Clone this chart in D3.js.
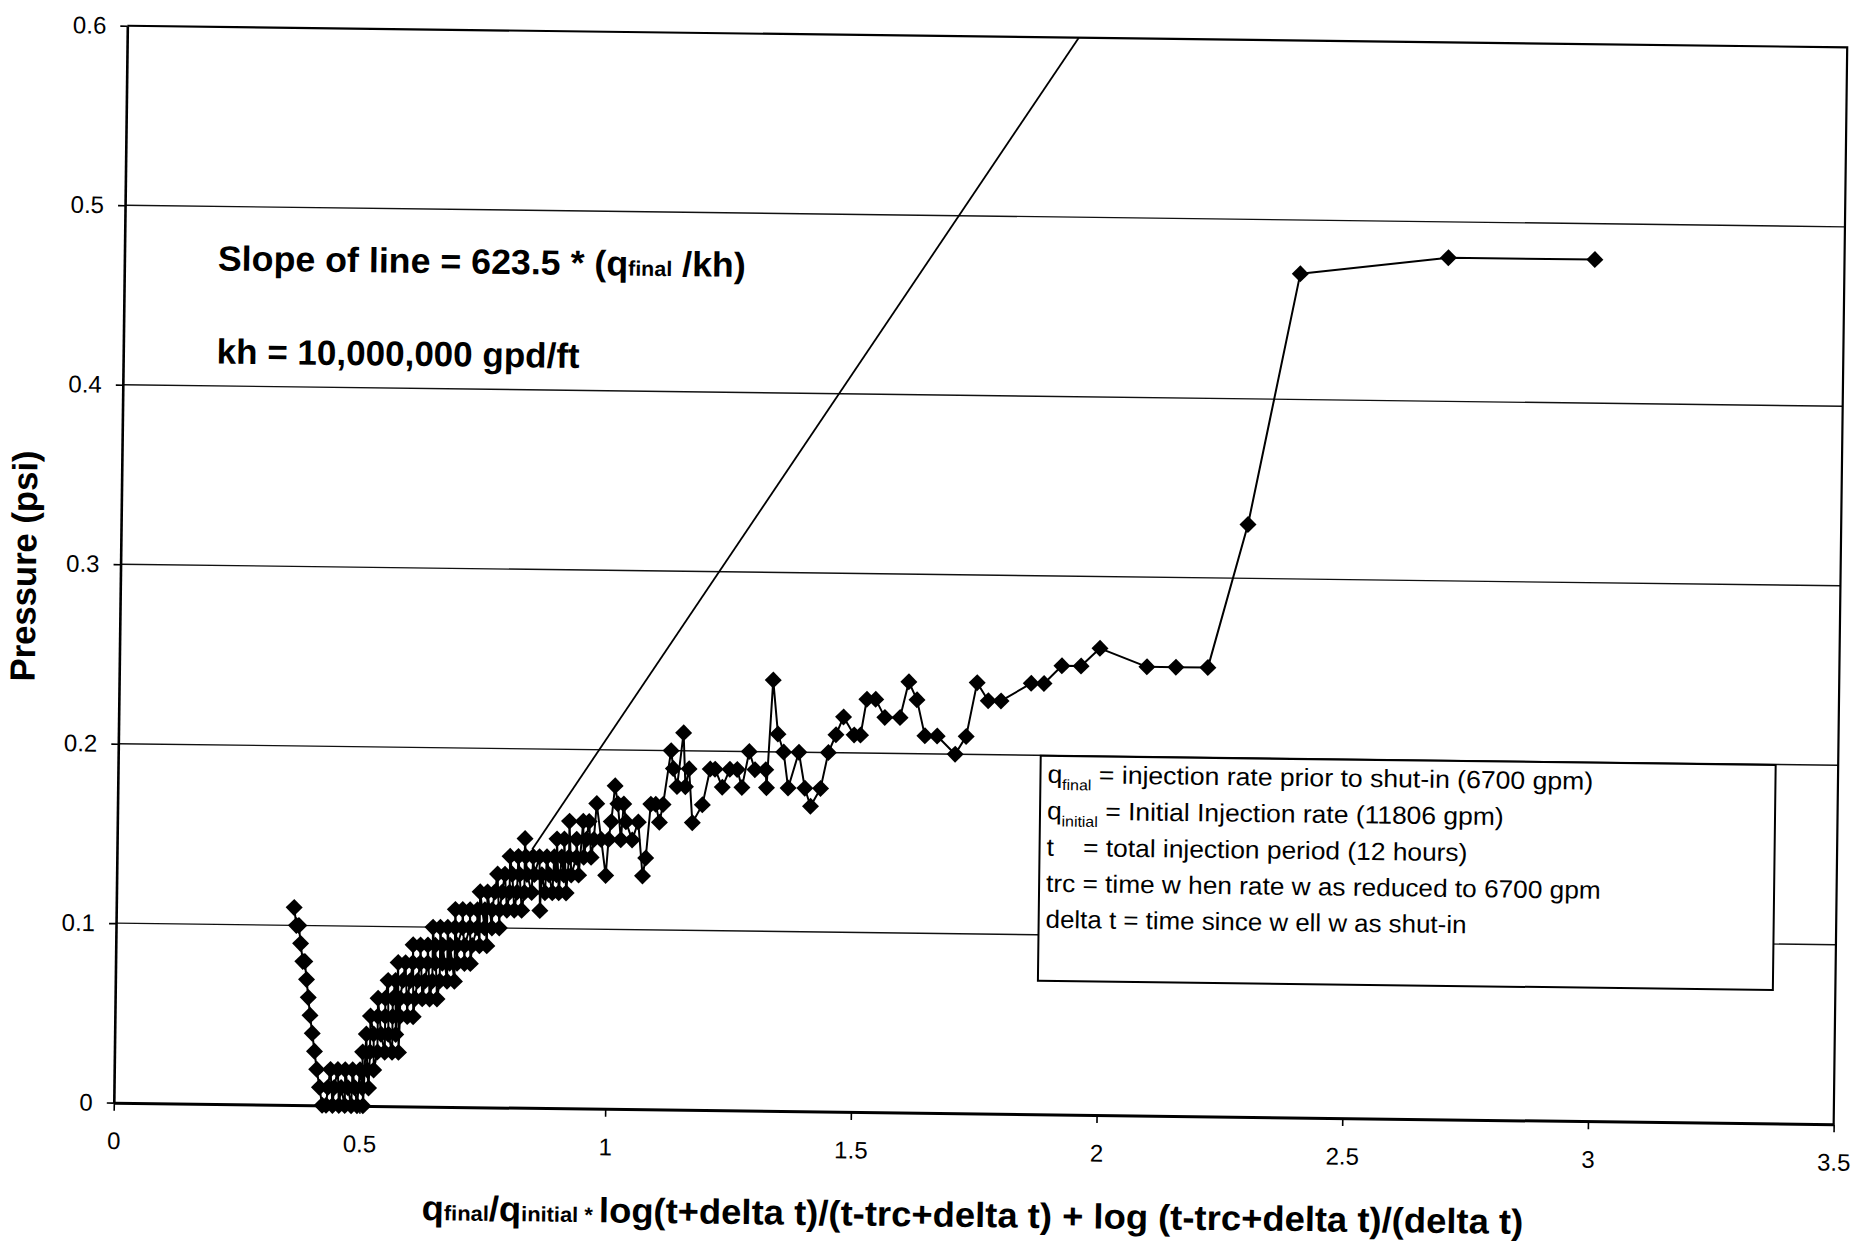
<!DOCTYPE html>
<html>
<head>
<meta charset="utf-8">
<script src="https://cdn.jsdelivr.net/npm/d3@7"></script>
<style>
  html, body { margin: 0; padding: 0; background: #fff; }
  svg { display: block; }
  text { font-family: "Liberation Sans", Arial, Helvetica, sans-serif; fill: #000; }
</style>
</head>
<body>
<svg id="chart" width="1869" height="1241"></svg>
<script>
// ---- axis ticks ----
const xTicks = [0, 0.5, 1, 1.5, 2, 2.5, 3, 3.5];
const xTickLabels = ["0", "0.5", "1", "1.5", "2", "2.5", "3", "3.5"];
const yTicks = [0, 0.1, 0.2, 0.3, 0.4, 0.5, 0.6];
const yTickLabels = ["0", "0.1", "0.2", "0.3", "0.4", "0.5", "0.6"];

// ---- shut-in pressure readings (gauge resolution 0.01 psi) ----
// pressureSteps[i] is a pressure level, hornerAtStep[i] the time-function
// values at which that level was recorded.
const pressureSteps = [0.00, 0.01, 0.02, 0.03, 0.04, 0.05, 0.06, 0.07, 0.08, 0.09,
                       0.10, 0.11, 0.12, 0.13, 0.14, 0.15, 0.16, 0.17, 0.18, 0.19,
                       0.20, 0.21, 0.22, 0.23, 0.24, 0.25, 0.26, 0.33, 0.47, 0.48];
const hornerAtStep = [
  [0.424, 0.432, 0.445, 0.458, 0.470, 0.483, 0.495, 0.507],
  [0.418, 0.435, 0.448, 0.462, 0.476, 0.490, 0.505, 0.518],
  [0.412, 0.440, 0.455, 0.470, 0.485, 0.500, 0.515, 0.528],
  [0.407, 0.505, 0.520, 0.535, 0.550, 0.565, 0.578],
  [0.402, 0.512, 0.527, 0.542, 0.557, 0.572],
  [0.397, 0.520, 0.535, 0.550, 0.565, 0.580, 0.595, 0.607],
  [0.393, 0.535, 0.550, 0.565, 0.580, 0.595, 0.610, 0.625, 0.640, 0.655],
  [0.389, 0.555, 0.570, 0.585, 0.600, 0.615, 0.630, 0.645, 0.660, 0.675, 0.690],
  [0.381, 0.385, 0.575, 0.590, 0.605, 0.620, 0.635, 0.650, 0.665, 0.680, 0.695, 0.710, 0.722],
  [0.376, 0.605, 0.620, 0.635, 0.650, 0.665, 0.680, 0.695, 0.710, 0.725, 0.740, 0.755],
  [0.367, 0.372, 0.645, 0.660, 0.675, 0.690, 0.705, 0.720, 0.735, 0.750, 0.765, 0.780],
  [0.362, 0.690, 0.705, 0.720, 0.735, 0.750, 0.765, 0.780, 0.795, 0.810, 0.825, 0.862],
  [0.740, 0.755, 0.770, 0.785, 0.800, 0.815, 0.830, 0.845, 0.872, 0.887, 0.900, 0.915],
  [0.775, 0.790, 0.805, 0.820, 0.835, 0.850, 0.865, 0.880, 0.895, 0.910, 0.925, 0.940, 0.995, 1.070],
  [0.800, 0.817, 0.832, 0.847, 0.860, 0.875, 0.890, 0.905, 0.920, 0.935, 0.950, 0.965, 1.076],
  [0.830, 0.895, 0.910, 0.935, 0.955, 0.970, 0.985, 1.000, 1.025, 1.048],
  [0.920, 0.948, 0.960, 1.005, 1.035, 1.060, 1.103, 1.170],
  [0.975, 1.018, 1.030, 1.085, 1.095, 1.110, 1.190, 1.410],
  [1.012, 1.138, 1.155, 1.230, 1.270, 1.320, 1.364, 1.398, 1.430],
  [1.130, 1.162, 1.205, 1.215, 1.245, 1.260, 1.296, 1.318],
  [1.125, 1.284, 1.354, 1.385, 1.445, 1.703],
  [1.150, 1.342, 1.460, 1.497, 1.510, 1.641, 1.666, 1.725],
  [1.475, 1.559, 1.590],
  [1.522, 1.540, 1.624, 1.769, 1.795],
  [1.331, 1.607, 1.746, 1.856, 1.882],
  [1.918, 1.957, 2.091, 2.150, 2.215],
  [1.995],
  [2.293],
  [2.393],
  [2.694, 2.992]
];

// ---- semilog straight line: slope = 623.5 * (q_final / kh) ----
const slopeCoefficient = 623.5;
const qFinal = 6700;          // gpm
const kh = 10000000;          // gpd/ft
const lineOrigin = 0.5;       // time-function value where the line meets zero pressure
const lineStart = 0.845;      // time-function value where the drawn line begins

// ---- definitions box ----
const legendSymbols = ["q", "q", "t    ", "trc", "delta t"];
const legendSubscripts = ["final", "initial", "", "", ""];
const legendDefinitions = [
  " = injection rate prior to shut-in (6700 gpm)",
  " = Initial Injection rate (11806 gpm)",
  "= total injection period (12 hours)",
  " = time w hen rate w as reduced to 6700 gpm",
  " = time since w ell w as shut-in"
];

// ================= drawing =================
const W = 1869, H = 1241;
const svg = d3.select("#chart");
svg.append("rect").attr("width", W).attr("height", H).attr("fill", "#fff");

const plot = { left: 120.5, right: 1840.5, top: 36.5, bottom: 1113.5 };
const cx = (plot.left + plot.right) / 2, cy = (plot.top + plot.bottom) / 2;

// whole sheet sits at a slight clockwise tilt
const g = svg.append("g").attr("transform", `rotate(0.72 ${cx} ${cy})`);

const x = d3.scaleLinear().domain([0, 3.5]).range([plot.left, plot.right]);
const y = d3.scaleLinear().domain([0, 0.6]).range([plot.bottom, plot.top]);

// horizontal gridlines
g.append("g").selectAll("line")
  .data(yTicks.filter(v => v > 0 && v < 0.6))
  .join("line")
  .attr("x1", plot.left).attr("x2", plot.right)
  .attr("y1", d => y(d)).attr("y2", d => y(d))
  .attr("stroke", "#111").attr("stroke-width", 1.4);

// plot-area border (top and right)
g.append("path")
  .attr("d", `M${plot.left},${y(0.6)}H${plot.right}V${plot.bottom}`)
  .attr("fill", "none").attr("stroke", "#000").attr("stroke-width", 2.2);

// axes
const yAxis = d3.axisLeft(y).tickValues(yTicks)
  .tickFormat((d, i) => yTickLabels[i])
  .tickSize(7).tickSizeOuter(0).tickPadding(14);
const ya = g.append("g").attr("transform", `translate(${plot.left},0)`).call(yAxis)
  .attr("font-size", 24).attr("font-family", '"Liberation Sans", Arial, sans-serif');
ya.select(".domain").attr("stroke-width", 2.6);
ya.selectAll(".tick line").attr("stroke-width", 1.6);

const xAxis = d3.axisBottom(x).tickValues(xTicks)
  .tickFormat((d, i) => xTickLabels[i])
  .tickSize(8).tickSizeOuter(0).tickPadding(21.5);
const xa = g.append("g").attr("transform", `translate(0,${plot.bottom})`).call(xAxis)
  .attr("font-size", 24).attr("font-family", '"Liberation Sans", Arial, sans-serif');
xa.select(".domain").attr("stroke-width", 3);
xa.selectAll(".tick line").attr("stroke-width", 1.6);

// straight line
const slope = slopeCoefficient * qFinal / kh;
const lineEnd = lineOrigin + 0.6 / slope;
g.append("line")
  .attr("x1", x(lineStart)).attr("y1", y(slope * (lineStart - lineOrigin)))
  .attr("x2", x(lineEnd)).attr("y2", y(0.6))
  .attr("stroke", "#000").attr("stroke-width", 1.8);

// pressure series, in order of the time function
const points = [];
pressureSteps.forEach((p, i) => hornerAtStep[i].forEach(h => points.push({ h, p })));
points.sort((a, b) => a.h - b.h);

g.append("path")
  .datum(points)
  .attr("d", d3.line().x(d => x(d.h)).y(d => y(d.p)))
  .attr("fill", "none").attr("stroke", "#000").attr("stroke-width", 2)
  .attr("stroke-linejoin", "round");

const diamond = d3.symbol(d3.symbolSquare).size(144.5);
g.append("g").selectAll("path")
  .data(points)
  .join("path")
  .attr("d", diamond)
  .attr("transform", d => `translate(${x(d.h)},${y(d.p)}) rotate(45)`)
  .attr("fill", "#000");

// horizontal stretch so a text run spans the given width
function stretch(sel, target) {
  return target / sel.node().getComputedTextLength();
}

// annotations
const ann1 = g.append("text").attr("font-weight", "bold").attr("font-size", 35);
ann1.append("tspan").text(`Slope of line = ${slopeCoefficient} * (q`);
ann1.append("tspan").attr("font-size", 21).text("final");
ann1.append("tspan").text(" /kh)");
ann1.attr("transform", `translate(214,280) scale(${stretch(ann1, 528)},1)`);

const ann2 = g.append("text").attr("font-weight", "bold").attr("font-size", 35)
  .text(`kh = ${d3.format(",")(kh)} gpd/ft`);
ann2.attr("transform", `translate(214,373) scale(${stretch(ann2, 363)},1)`);

// axis titles
const yt = g.append("text").attr("font-weight", "bold").attr("font-size", 35)
  .attr("text-anchor", "middle").text("Pressure (psi)");
yt.attr("transform", `translate(36,578) rotate(-90) scale(${stretch(yt, 231)},1)`);

const xt = g.append("text").attr("font-weight", "bold").attr("font-size", 35)
  .attr("text-anchor", "middle");
xt.append("tspan").text("q");
xt.append("tspan").attr("font-size", 21).text("final");
xt.append("tspan").text("/q");
xt.append("tspan").attr("font-size", 21).text("initial");
xt.append("tspan").attr("font-size", 21).text(" * ");
xt.append("tspan").text("log(t+delta t)/(t-trc+delta t) + log (t-trc+delta t)/(delta t)");
xt.attr("transform", `translate(${cx},1227) scale(${stretch(xt, 1102)},1)`);

// definitions box
const box = { left: 1043, top: 755, width: 735, height: 225 };
g.append("rect")
  .attr("x", box.left).attr("y", box.top)
  .attr("width", box.width).attr("height", box.height)
  .attr("fill", "#fff").attr("stroke", "#000").attr("stroke-width", 2);

const legendBaselines = [782, 818.5, 855, 891, 927];
const legendLineWidths = [546, 457, 421, 555, 421];
legendSymbols.forEach((sym, i) => {
  const t = g.append("text").attr("font-size", 25).style("white-space", "pre");
  t.append("tspan").text(sym);
  if (legendSubscripts[i]) {
    t.append("tspan").attr("font-size", 15).attr("dy", 7).text(legendSubscripts[i]);
    t.append("tspan").attr("dy", -7).text(legendDefinitions[i]);
  } else {
    t.append("tspan").text(legendDefinitions[i]);
  }
  t.attr("transform", `translate(1050,${legendBaselines[i]}) scale(${stretch(t, legendLineWidths[i])},1)`);
});
</script>
</body>
</html>
